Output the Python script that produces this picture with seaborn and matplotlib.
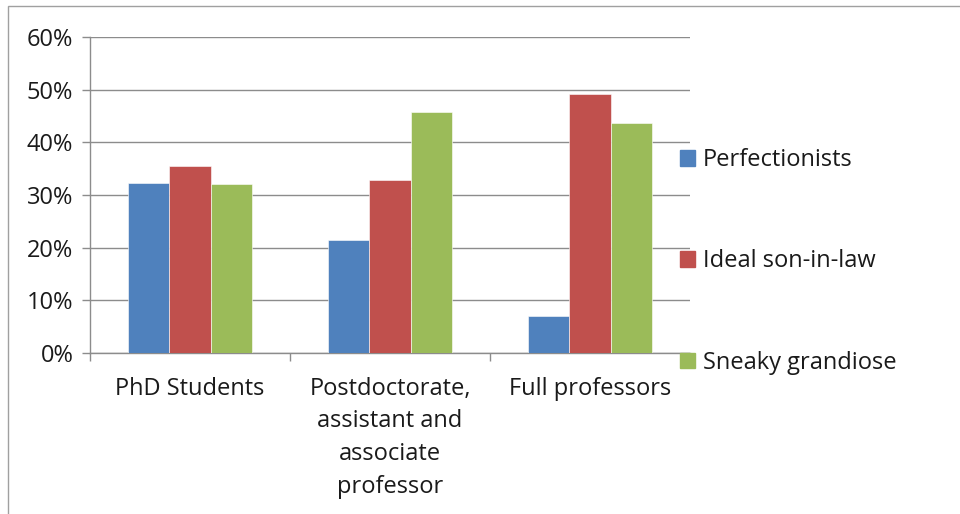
import pandas as pd
import matplotlib
matplotlib.use("Agg")
import matplotlib.pyplot as plt
import seaborn as sns
from matplotlib.ticker import PercentFormatter, FixedLocator
from matplotlib.patches import Rectangle

# Data (percent of each group)
categories = ["PhD Students",
              "Postdoctorate,\nassistant and\nassociate\nprofessor",
              "Full professors"]
series = ["Perfectionists", "Ideal son-in-law", "Sneaky grandiose"]
perfectionists = [32.2, 21.5, 7.1]
ideal_son_in_law = [35.6, 32.8, 49.1]
sneaky_grandiose = [32.0, 45.8, 43.6]
colors = ["#4F81BD", "#C0504D", "#9BBB59"]

rows = []
for name, vals in zip(series, [perfectionists, ideal_son_in_law, sneaky_grandiose]):
    for cat, v in zip(categories, vals):
        rows.append({"category": cat, "profile": name, "value": v})
df = pd.DataFrame(rows)

sns.set_style("white")
plt.rcParams['font.family'] = ['Open Sans', 'DejaVu Sans']

fig = plt.figure(figsize=(9.6, 5.14), dpi=100)
ax = fig.add_axes([90 / 960, 1 - 353 / 514, 600 / 960, 316 / 514])

sns.barplot(data=df, x="category", y="value", hue="profile",
            order=categories, hue_order=series, palette=colors,
            width=0.62, saturation=1, edgecolor="white", linewidth=0.4,
            ax=ax, zorder=3)

ax.set_ylim(0, 60)
ax.set_xlim(-0.5, 2.5)
ax.yaxis.set_major_formatter(PercentFormatter(100, decimals=0))
ax.set_yticks(range(0, 61, 10))
ax.grid(axis="y", color="#8c8c8c", linewidth=1, zorder=0)
ax.set_axisbelow(True)
ax.set_xlabel("")
ax.set_ylabel("")

for side in ["top", "right"]:
    ax.spines[side].set_visible(False)
for side in ["left", "bottom"]:
    ax.spines[side].set_color("#8c8c8c")
    ax.spines[side].set_linewidth(1)

# category boundary ticks
ax.xaxis.set_minor_locator(FixedLocator([-0.5, 0.5, 1.5, 2.5]))
ax.tick_params(axis="x", which="major", length=0, labelsize=17, pad=17,
               labelcolor="#1a1a1a")
ax.tick_params(axis="x", which="minor", length=6, color="#8c8c8c", width=1,
               direction="out", bottom=True)
ax.tick_params(axis="y", length=6, color="#8c8c8c", width=1, left=True,
               direction="out", labelsize=17, pad=6, labelcolor="#1a1a1a")
for lbl in ax.get_xticklabels():
    lbl.set_linespacing(1.48)
    lbl.set_verticalalignment("top")

ax.legend_.remove()
handles = [Rectangle((0, 0), 1, 1, color=c) for c in colors]
fig.legend(handles, series, loc="center left",
           bbox_to_anchor=(680 / 960, 1 - 261.5 / 514),
           frameon=False, fontsize=17, labelspacing=3.27,
           handlelength=0.64, handleheight=0.64, handletextpad=0.33,
           borderpad=0, borderaxespad=0, labelcolor="#1a1a1a")

# outer chart frame
fig.patches.append(Rectangle((8 / 960, -0.1), 1.2, 1 - 6 / 514 + 0.1,
                             transform=fig.transFigure, fill=False,
                             edgecolor="#a0a0a0", linewidth=1))

fig.savefig("out.png", dpi=100)
